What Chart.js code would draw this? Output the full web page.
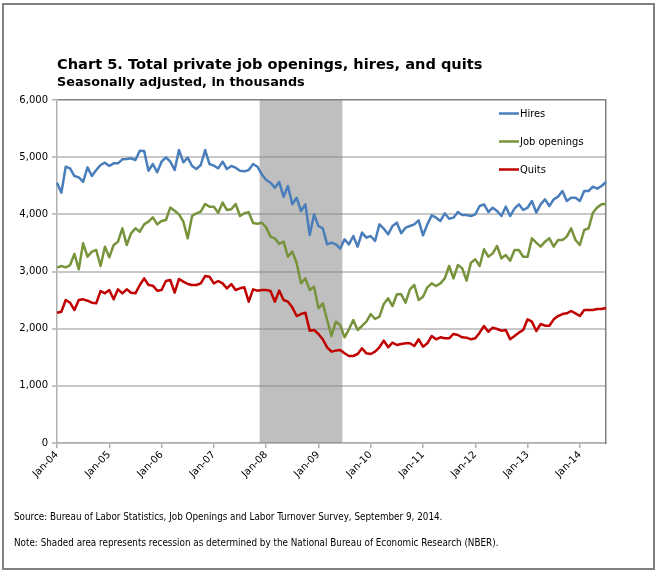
<!DOCTYPE html>
<html>
<head>
<meta charset="utf-8">
<script src="https://cdn.jsdelivr.net/npm/chart.js@4.4.1/dist/chart.umd.min.js"></script>
<style>
html,body{margin:0;padding:0;background:#fff;}
body{width:658px;height:572px;position:relative;overflow:hidden;font-family:'DejaVu Sans',sans-serif;color:#000;}
#frame{position:absolute;left:2px;top:3px;width:653px;height:567px;box-sizing:border-box;border:2px solid #808080;}
.txt{position:absolute;white-space:nowrap;line-height:1;}
#title{left:57px;top:57px;font-weight:bold;font-size:14.6px;font-family:'DejaVu Sans',sans-serif;}
#subtitle{left:57px;top:76px;font-weight:bold;font-size:12.8px;font-family:'DejaVu Sans',sans-serif;}
#source{left:14px;top:512px;font-size:9.8px;font-family:'DejaVu Sans Condensed','DejaVu Sans',sans-serif;}
#note{left:14px;top:538px;font-size:9.8px;font-family:'DejaVu Sans Condensed','DejaVu Sans',sans-serif;}
#wrap{position:absolute;left:0;top:0;width:658px;height:572px;}
</style>
</head>
<body>
<div id="frame"></div>
<div id="wrap"><canvas id="c" width="658" height="572"></canvas></div>
<div class="txt" id="title">Chart 5. Total private job openings, hires, and quits</div>
<div class="txt" id="subtitle">Seasonally adjusted, in thousands</div>
<div class="txt" id="source">Source: Bureau of Labor Statistics, Job Openings and Labor Turnover Survey, September 9, 2014.</div>
<div class="txt" id="note">Note: Shaded area represents recession as determined by the National Bureau of Economic Research (NBER).</div>
<script>
// ---- data (thousands, monthly Jan-04 .. Jul-14) ----
const monthNames = ['Jan','Feb','Mar','Apr','May','Jun','Jul','Aug','Sep','Oct','Nov','Dec'];
const startYear = 2004;
const monthCount = 127;
const tickLabels = ['Jan-04','Jan-05','Jan-06','Jan-07','Jan-08','Jan-09','Jan-10','Jan-11','Jan-12','Jan-13','Jan-14'];
const recessionStart = 'Dec-07';
const recessionEnd = 'Jun-09';

const hires = [
4553,4378,4833,4805,4670,4647,4570,4822,4670,4775,4863,4903,
4845,4892,4892,4962,4968,4980,4950,5113,5107,4763,4880,4735,
4921,4997,4921,4775,5125,4910,4991,4845,4793,4863,5125,4880,
4851,4805,4921,4793,4845,4816,4763,4752,4775,4880,4833,4700,
4600,4553,4466,4565,4308,4495,4175,4291,4058,4175,3639,4000,
3796,3755,3475,3504,3475,3400,3563,3475,3621,3434,3680,3592,
3621,3534,3825,3749,3650,3796,3854,3668,3767,3796,3825,3895,
3633,3825,3983,3942,3884,4018,3924,3942,4041,3988,3988,3971,
4000,4146,4175,4041,4116,4058,3971,4134,3971,4099,4175,4076,
4116,4233,4029,4175,4262,4146,4262,4309,4408,4233,4291,4291,
4233,4408,4408,4484,4449,4496,4566];

const jobOpenings = [
3067,3096,3073,3113,3306,3038,3493,3259,3347,3376,3096,3434,
3248,3464,3522,3755,3464,3668,3755,3697,3825,3872,3948,3825,
3883,3901,4117,4064,4000,3872,3580,3971,4018,4047,4181,4134,
4134,4029,4204,4076,4088,4181,3971,4018,4035,3850,3836,3854,
3772,3610,3580,3481,3522,3259,3347,3150,2793,2880,2676,2734,
2356,2443,2151,1872,2122,2064,1849,1989,2151,1977,2047,2122,
2256,2169,2210,2431,2531,2396,2600,2600,2454,2688,2764,2501,
2559,2723,2793,2746,2793,2880,3096,2880,3113,3055,2840,3155,
3213,3096,3388,3259,3317,3446,3230,3288,3189,3376,3376,3259,
3259,3580,3504,3434,3522,3580,3434,3551,3551,3610,3755,3551,
3464,3726,3755,4029,4122,4175,4181];

const quits = [
2280,2297,2501,2454,2326,2501,2513,2489,2454,2443,2659,2618,
2676,2513,2688,2618,2688,2630,2618,2764,2880,2764,2752,2665,
2676,2834,2851,2630,2869,2822,2781,2764,2764,2793,2921,2909,
2793,2834,2793,2706,2781,2676,2706,2723,2472,2688,2665,2676,
2676,2659,2472,2665,2501,2472,2373,2221,2256,2280,1965,1977,
1907,1814,1674,1598,1616,1627,1569,1522,1522,1557,1656,1569,
1557,1598,1674,1790,1674,1755,1714,1732,1744,1744,1697,1814,
1685,1744,1872,1814,1849,1831,1831,1907,1889,1849,1843,1814,
1831,1930,2047,1948,2017,1994,1965,1977,1814,1872,1930,1977,
2163,2122,1959,2081,2052,2052,2163,2221,2256,2268,2309,2268,
2221,2326,2326,2326,2344,2344,2361];

const yMax = 6000;
const yStep = 1000;

// ---- build categories ----
const months = [];
for (let i = 0; i < monthCount; i++) {
  const y = startYear + Math.floor(i / 12);
  months.push(monthNames[i % 12] + '-' + String(y).slice(2));
}
const rStart = months.indexOf(recessionStart);
const rEnd = months.indexOf(recessionEnd);
// stepped ("middle") outline: full height over the recession months, 0 on the neighbouring months,
// so the filled band runs from half a month before the start to half a month after the end
const recession = months.map((m, i) =>
  (i >= rStart && i <= rEnd) ? yMax : ((i === rStart - 1 || i === rEnd + 1) ? 0 : null));

const tickFont = {family: "'DejaVu Sans',sans-serif", size: 10};

const insideLegend = {
  id: 'insideLegend',
  afterDraw(chart) {
    const c = chart.ctx;
    const a = chart.chartArea;
    const items = chart.data.datasets.filter(d => !d.shade);
    c.save();
    c.font = "11px 'DejaVu Sans Condensed','DejaVu Sans',sans-serif";
    c.textBaseline = 'middle';
    c.textAlign = 'left';
    items.forEach((d, k) => {
      const y = a.top + 13.5 + k * 28;
      const x0 = a.right - 107;
      c.strokeStyle = d.borderColor;
      c.lineWidth = 2.5;
      c.beginPath();
      c.moveTo(x0, y);
      c.lineTo(x0 + 20, y);
      c.stroke();
      c.fillStyle = '#000';
      c.fillText(d.label, x0 + 21, y + 0.5);
    });
    c.restore();
  }
};

const lineStyle = {type: 'line', pointRadius: 0, pointHoverRadius: 0, borderWidth: 2.5, tension: 0, fill: false, borderJoinStyle: 'round'};

new Chart(document.getElementById('c'), {
  type: 'line',
  data: {
    labels: months,
    datasets: [
      Object.assign({label: 'Hires', data: hires, borderColor: '#4A7EBB', order: 3}, lineStyle),
      Object.assign({label: 'Job openings', data: jobOpenings, borderColor: '#77933C', order: 2}, lineStyle),
      Object.assign({label: 'Quits', data: quits, borderColor: '#C00000', order: 1}, lineStyle),
      {type: 'line', label: 'Recession', shade: true, data: recession, stepped: 'middle',
       fill: 'origin', backgroundColor: 'rgba(128,128,128,0.5)', borderColor: 'rgba(0,0,0,0)',
       borderWidth: 0, pointRadius: 0, pointHoverRadius: 0, spanGaps: false, order: 10}
    ]
  },
  options: {
    responsive: false,
    animation: false,
    devicePixelRatio: 1,
    layout: {padding: {left: 0, right: 52, top: 100, bottom: 69}},
    plugins: {legend: {display: false}, tooltip: {enabled: false}, title: {display: false},
              filler: {propagate: false}},
    scales: {
      x: {
        type: 'category',
        offset: false,
        grid: {
          offset: false,
          drawOnChartArea: false,
          drawTicks: true,
          tickLength: 5,
          lineWidth: 1.5,
          color: ctx => (ctx.index % 12 === 0 ? '#b0b0b0' : 'rgba(0,0,0,0)')
        },
        border: {display: true, color: '#b0b0b0', width: 1.5},
        ticks: {
          autoSkip: false, maxRotation: 45, minRotation: 45, padding: 1,
          color: '#000', font: tickFont,
          callback: (v, i) => (i % 12 === 0 ? tickLabels[i / 12] : '')
        },
        afterFit: s => { s.height = 60; }
      },
      y: {
        min: 0, max: yMax,
        grid: {
          drawTicks: true, tickLength: 5,
          color: ctx => (ctx.tick && ctx.tick.value === yMax ? '#808080' : '#c8c8c8'),
          lineWidth: ctx => (ctx.tick && ctx.tick.value === yMax ? 1.5 : 2),
          tickColor: '#b0b0b0', tickWidth: 1.5
        },
        border: {display: true, color: '#b0b0b0', width: 1.5},
        ticks: {
          stepSize: yStep, padding: 4, color: '#000', font: tickFont,
          callback: v => v.toLocaleString('en-US')
        },
        afterFit: s => { s.width = 57; }
      },
      yRight: {
        position: 'right', min: 0, max: yMax,
        grid: {drawOnChartArea: false, drawTicks: false},
        border: {display: true, color: '#808080', width: 1.5},
        ticks: {display: false},
        afterFit: s => { s.width = 0; }
      }
    }
  },
  plugins: [insideLegend]
});
</script>
</body>
</html>
